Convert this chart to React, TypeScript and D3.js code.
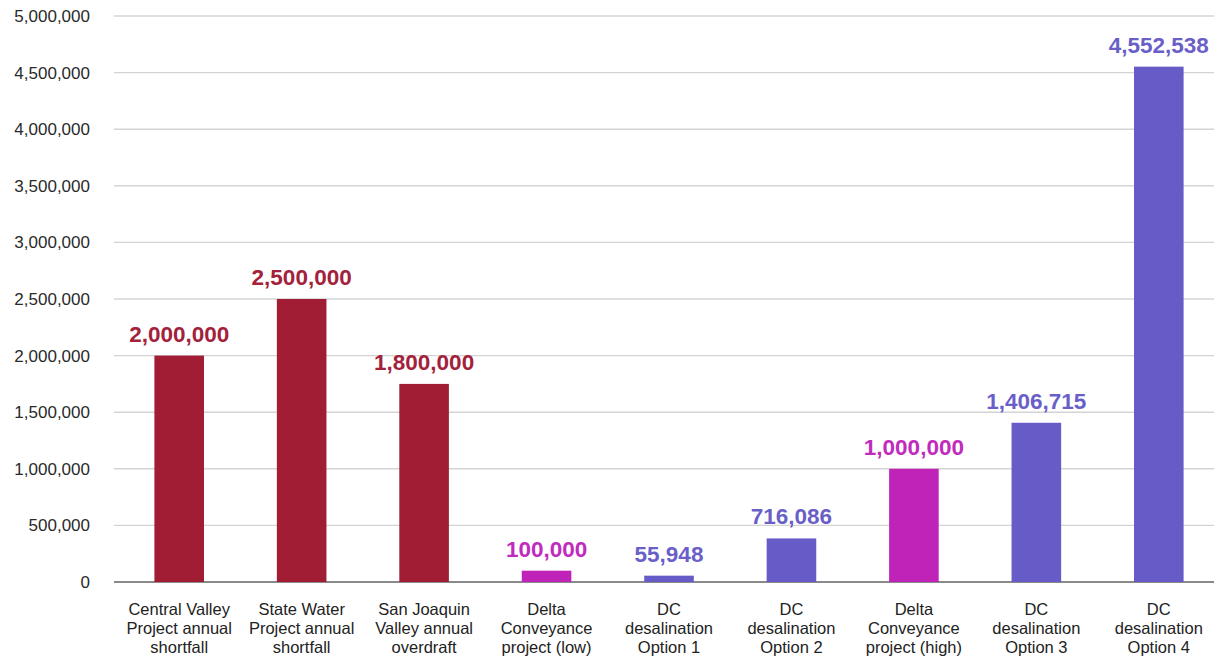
import React, { useEffect, useRef } from 'react';
import * as d3 from 'd3';

// categories, shown as three-line labels under each bar
const categories = [
  ['Central Valley', 'Project annual', 'shortfall'],
  ['State Water', 'Project annual', 'shortfall'],
  ['San Joaquin', 'Valley annual', 'overdraft'],
  ['Delta', 'Conveyance', 'project (low)'],
  ['DC', 'desalination', 'Option 1'],
  ['DC', 'desalination', 'Option 2'],
  ['Delta', 'Conveyance', 'project (high)'],
  ['DC', 'desalination', 'Option 3'],
  ['DC', 'desalination', 'Option 4'],
];
// bar heights as drawn
const values = [2000000, 2500000, 1750000, 100000, 55948, 385000, 1000000, 1406715, 4552538];
// value labels printed above the bars
const valueLabels = ['2,000,000', '2,500,000', '1,800,000', '100,000', '55,948', '716,086', '1,000,000', '1,406,715', '4,552,538'];
const groups = ['shortfall', 'shortfall', 'shortfall', 'delta', 'desal', 'desal', 'delta', 'desal', 'desal'];
const yTicks = [0, 500000, 1000000, 1500000, 2000000, 2500000, 3000000, 3500000, 4000000, 4500000, 5000000];

const W = 1221;
const H = 656;

export default function App() {
  const ref = useRef<SVGSVGElement>(null);

  useEffect(() => {
    const margin = { top: 16, right: 7, bottom: 74, left: 114 };
    const width = W - margin.left - margin.right;
    const height = H - margin.top - margin.bottom;

    const svg = d3.select(ref.current);
    svg.selectAll('*').remove();
    const chart = svg.append('g').attr('transform', `translate(${margin.left},${margin.top})`);

    const x = d3.scaleBand<number>()
      .domain(d3.range(categories.length))
      .range([0, 1110])
      .paddingInner(0.595)
      .paddingOuter(0.33);

    const y = d3.scaleLinear().domain([0, 5000000]).range([height, 0]);

    const color = d3.scaleOrdinal<string, string>()
      .domain(['shortfall', 'delta', 'desal'])
      .range(['#a01d33', '#c023b7', '#665bc7']);
    const labelColor = d3.scaleOrdinal<string, string>()
      .domain(['shortfall', 'delta', 'desal'])
      .range(['#a3213b', '#c12bbd', '#6a5fc8']);

    const font = '"Liberation Sans", Arial, Helvetica, sans-serif';

    // grid lines
    chart.append('g')
      .selectAll('line')
      .data(yTicks)
      .enter().append('line')
      .attr('x1', 0)
      .attr('x2', width)
      .attr('y1', (d) => y(d))
      .attr('y2', (d) => y(d))
      .attr('stroke', (d) => (d === 0 ? '#8a8a8a' : '#d4d4d4'))
      .attr('stroke-width', (d) => (d === 0 ? 2 : 1.4));

    // y tick labels
    chart.append('g')
      .selectAll('text')
      .data(yTicks)
      .enter().append('text')
      .attr('x', -24)
      .attr('y', (d) => y(d))
      .attr('dy', '0.35em')
      .attr('text-anchor', 'end')
      .style('font-family', font)
      .style('font-size', '17px')
      .style('fill', '#2a2a2a')
      .text((d) => d3.format(',')(d));

    // bars
    chart.append('g')
      .selectAll('rect')
      .data(values)
      .enter().append('rect')
      .attr('x', (_, i) => x(i)!)
      .attr('width', x.bandwidth())
      .attr('y', (d) => y(d))
      .attr('height', (d) => height - y(d))
      .attr('fill', (_, i) => color(groups[i]));

    // value labels
    chart.append('g')
      .selectAll('text')
      .data(values)
      .enter().append('text')
      .attr('x', (_, i) => x(i)! + x.bandwidth() / 2)
      .attr('y', (d) => y(d) - 14)
      .attr('text-anchor', 'middle')
      .style('font-family', font)
      .style('font-size', '22.5px')
      .style('font-weight', 'bold')
      .style('fill', (_, i) => labelColor(groups[i]))
      .text((_, i) => valueLabels[i]);

    // category labels
    const cat = chart.append('g')
      .selectAll('text')
      .data(categories)
      .enter().append('text')
      .attr('x', (_, i) => x(i)! + x.bandwidth() / 2)
      .attr('y', height + 33)
      .attr('text-anchor', 'middle')
      .style('font-family', font)
      .style('font-size', '16.5px')
      .style('fill', '#222');
    cat.selectAll('tspan')
      .data((d) => d)
      .enter().append('tspan')
      .attr('x', function () { return (this.parentNode as SVGTextElement).getAttribute('x'); })
      .attr('dy', (_, j) => (j === 0 ? 0 : 19))
      .text((d) => d);
  }, []);

  return (
    <svg
      ref={ref}
      width={W}
      height={H}
      style={{ position: 'absolute', left: 0, top: 0, background: '#fff' }}
    />
  );
}
